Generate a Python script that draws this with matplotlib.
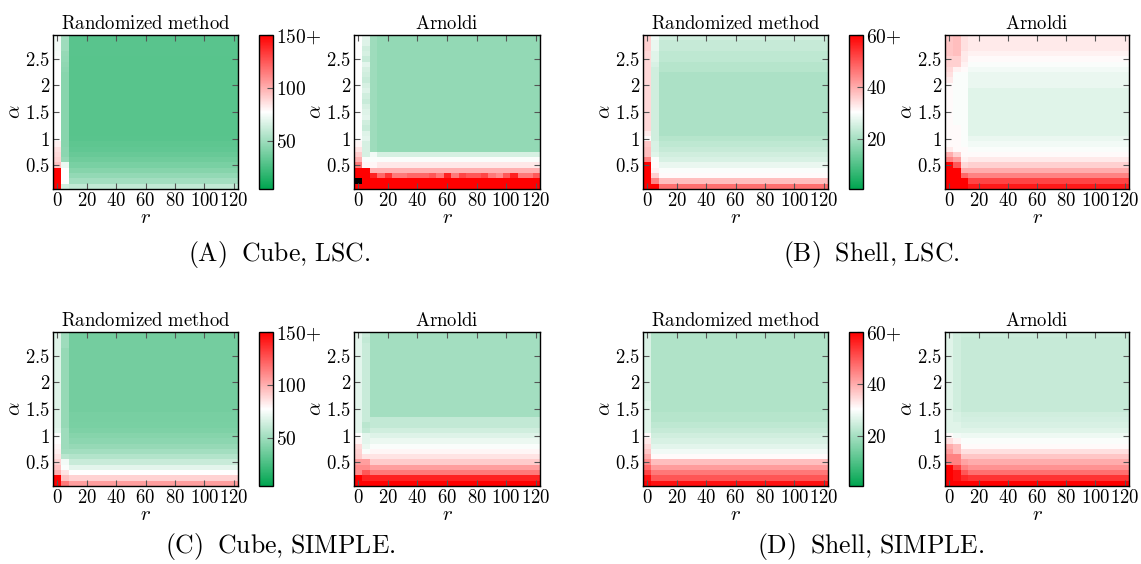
import numpy as np
import matplotlib
matplotlib.use("Agg")
import matplotlib.pyplot as plt
from matplotlib.colors import LinearSegmentedColormap

plt.rcParams['mathtext.fontset'] = 'cm'
plt.rcParams['font.family'] = 'serif'
plt.rcParams['xtick.direction'] = 'in'
plt.rcParams['ytick.direction'] = 'in'
plt.rcParams['xtick.top'] = True
plt.rcParams['ytick.right'] = True

# grid coordinates
r_vals = np.arange(0, 125, 5)                 # 25 columns
alpha_vals = np.round(np.arange(1, 30) * 0.1, 1)  # 29 rows, bottom -> top

# ---- (A) Cube, LSC ----  (values listed from alpha=0.1 upward)
cube_lsc_rand_bulk = [60, 52, 47, 43, 40, 37, 35, 33, 32, 31,
                      30, 30, 30, 30, 30, 30, 30, 30, 30, 30,
                      30, 30, 30, 30, 30, 31, 31, 31, 31]
cube_lsc_rand_c0 = [160, 160, 160, 160, 95, 90, 88, 86, 82, 78,
                    78, 77, 77, 77, 77, 77, 77, 77, 77, 77,
                    77, 77, 77, 77, 76, 75, 74, 74, 74]
cube_lsc_rand_c1 = [65, 77, 78, 78, 72, 48, 45, 45, 44, 44,
                    44, 44, 44, 44, 44, 44, 44, 44, 44, 44,
                    44, 44, 45, 46, 47, 48, 50, 50, 52]

cube_lsc_arn_bulk = [160, 160, 125, 100, 84, 76, 66, 47, 47, 47,
                     47, 47, 47, 47, 47, 47, 47, 47, 47, 47,
                     47, 47, 47, 47, 47, 47, 47, 47, 47]
cube_lsc_arn_row3 = [160, 160, 150, 120, 135, 115, 115, 120, 120, 120,
                     125, 115, 140, 115, 130, 125, 125, 130, 115, 110,
                     125, 140, 115, 115, 125]
cube_lsc_arn_c0 = [160, np.nan, 160, 160, 115, 100, 92, 85, 80, 77,
                   77, 77, 77, 77, 77, 77, 77, 77, 77, 77,
                   77, 77, 77, 77, 77, 77, 77, 77, 77]
cube_lsc_arn_c1 = [160, 160, 160, 160, 80, 76, 66, 66, 66, 70,
                   68, 62, 64, 70, 68, 66, 62, 64, 68, 66,
                   62, 64, 66, 70, 62, 66, 64, 68, 70]
cube_lsc_arn_c2 = [160, 160, 140, 100, 80, 76, 74, 50, 50, 50,
                   50, 50, 50, 50, 50, 50, 50, 50, 50, 50,
                   50, 50, 50, 50, 50, 50, 50, 50, 50]

# ---- (B) Shell, LSC ----
shell_lsc_rand_bulk = [47, 38, 31, 30, 28, 26, 25, 24, 23, 22,
                       21, 21, 21, 21, 21, 21, 21, 21, 21, 21,
                       21, 21, 22, 22, 23, 23, 24, 24, 25]
shell_lsc_rand_c0 = [60, 60, 60, 60, 60, 45, 38, 38, 37, 31,
                     33, 35, 35, 35, 35, 35, 35, 35, 35, 35,
                     35, 35, 35, 35, 35, 35, 36, 36, 36]
shell_lsc_rand_c1 = [60, 45, 36, 32, 31, 30, 27, 26, 26, 25,
                     25, 25, 25, 25, 25, 25, 25, 25, 25, 25,
                     25, 25, 25, 26, 27, 27, 28, 28, 29]

shell_lsc_arn_bulk = [57, 52, 45, 40, 36, 33, 31, 30, 29, 28,
                      27, 27, 27, 27, 27, 27, 27, 27, 27, 28,
                      28, 28, 29, 30, 31, 32, 33, 33, 33]
shell_lsc_arn_c0 = [60, 60, 60, 60, 60, 45, 40, 33, 31, 31,
                    31, 31, 31, 31, 31, 31, 31, 31, 31, 31,
                    33, 34, 35, 36, 36, 37, 37, 37, 37]
shell_lsc_arn_c1 = [60, 60, 60, 60, 50, 42, 36, 31, 31, 31,
                    31, 31, 30, 30, 30, 30, 30, 30, 30, 30,
                    30, 30, 32, 36, 36, 38, 38, 38, 38]
shell_lsc_arn_c2 = [60, 60, 48, 40, 35, 32, 31, 31, 30, 30,
                    30, 30, 30, 30, 30, 30, 30, 30, 30, 30,
                    30, 30, 31, 32, 33, 33, 34, 34, 34]

# ---- (C) Cube, SIMPLE ----
cube_simple_rand_bulk = [105, 90, 78, 70, 62, 56, 52, 48, 45, 43,
                         41, 40, 39, 39, 38, 38, 38, 38, 38, 38,
                         38, 38, 38, 38, 38, 38, 38, 38, 38]
cube_simple_rand_c0 = [160, 150, 100, 95, 90, 85, 82, 80, 78, 76,
                       70, 68, 68, 68, 68, 68, 68, 68, 68, 68,
                       68, 68, 68, 68, 68, 68, 68, 68, 68]
cube_simple_rand_c1 = [115, 95, 85, 76, 74, 58, 52, 50, 50, 50,
                       50, 48, 48, 48, 48, 48, 48, 48, 48, 48,
                       48, 48, 48, 48, 48, 48, 50, 50, 50]

cube_simple_arn_bulk = [160, 140, 115, 105, 92, 85, 80, 76, 72, 68,
                        64, 60, 60, 52, 52, 52, 52, 52, 52, 52,
                        52, 52, 52, 52, 52, 52, 52, 52, 52]
cube_simple_arn_c0 = [160, 160, 110, 110, 105, 92, 90, 88, 80, 78,
                      70, 70, 70, 70, 70, 70, 70, 70, 70, 70,
                      70, 70, 70, 70, 70, 70, 70, 70, 70]
cube_simple_arn_c1 = [160, 140, 125, 110, 105, 85, 76, 72, 70, 70,
                      60, 58, 62, 62, 62, 62, 62, 62, 62, 62,
                      62, 62, 62, 62, 62, 62, 62, 60, 62]

# ---- (D) Shell, SIMPLE ----
shell_simple_rand_bulk = [58, 50, 46, 42, 38, 31, 29, 27.5, 26, 25,
                          24, 23, 22, 22, 21.5, 21.5, 21.5, 21.5, 21.5, 21.5,
                          21.5, 21.5, 21.5, 21.5, 21.5, 21.5, 21.5, 21.5, 21.5]
shell_simple_rand_c0 = [60, 58, 52, 48, 44, 40, 37, 35, 33, 31,
                        27, 27, 27, 27, 27, 27, 26, 26, 26, 26,
                        26, 26, 26, 26, 26, 26, 26, 26, 26]

shell_simple_arn_bulk = [60, 54, 47, 43, 40, 37, 34, 31, 30, 28.5,
                         27, 26, 25.5, 25, 24, 24, 24, 24, 24, 24,
                         24, 24, 24, 24, 24, 24, 24, 24, 24.5]
shell_simple_arn_c0 = [60, 60, 60, 60, 45, 45, 42, 40, 34, 31,
                       27, 27, 27, 27, 27, 27, 27, 27, 27, 27,
                       27, 27, 27, 27, 27, 27, 27, 27, 27]
shell_simple_arn_c1 = [60, 58, 58, 52, 45, 45, 38, 38, 32, 29,
                       27, 27, 26, 26, 25, 25, 25, 25, 25, 25,
                       25, 25, 25, 25, 25, 25, 25, 25, 25]
shell_simple_arn_c2 = [60, 55, 50, 45, 41, 37, 34, 31, 30, 28.5,
                       27, 26, 25.5, 25, 24, 24, 24, 24, 24, 24,
                       24, 24, 24, 24, 24, 24, 24, 24, 24.5]


def build(bulk, cols=(), rows=None):
    g = np.tile(np.array(bulk, float)[:, None], (1, len(r_vals)))
    for j, c in enumerate(cols):
        g[:, j] = c
    if rows:
        for i, row in rows.items():
            g[i, len(cols):] = np.array(row, float)[len(cols):]
    return g


grids = {
    'A': (build(cube_lsc_rand_bulk, [cube_lsc_rand_c0, cube_lsc_rand_c1]),
          build(cube_lsc_arn_bulk, [cube_lsc_arn_c0, cube_lsc_arn_c1, cube_lsc_arn_c2],
                {2: cube_lsc_arn_row3})),
    'B': (build(shell_lsc_rand_bulk, [shell_lsc_rand_c0, shell_lsc_rand_c1]),
          build(shell_lsc_arn_bulk, [shell_lsc_arn_c0, shell_lsc_arn_c1, shell_lsc_arn_c2])),
    'C': (build(cube_simple_rand_bulk, [cube_simple_rand_c0, cube_simple_rand_c1]),
          build(cube_simple_arn_bulk, [cube_simple_arn_c0, cube_simple_arn_c1])),
    'D': (build(shell_simple_rand_bulk, [shell_simple_rand_c0]),
          build(shell_simple_arn_bulk, [shell_simple_arn_c0, shell_simple_arn_c1, shell_simple_arn_c2])),
}
limits = {'A': (5, 150), 'B': (1, 60), 'C': (5, 150), 'D': (1, 60)}
cbar_ticks = {'A': [50, 100, 150], 'B': [20, 40, 60], 'C': [50, 100, 150], 'D': [20, 40, 60]}
captions = {'A': r'$\mathrm{(A)\;\ Cube{,}\ LSC.}$', 'B': r'$\mathrm{(B)\;\ Shell{,}\ LSC.}$',
            'C': r'$\mathrm{(C)\;\ Cube{,}\ SIMPLE.}$', 'D': r'$\mathrm{(D)\;\ Shell{,}\ SIMPLE.}$'}

cmap = LinearSegmentedColormap.from_list('gwr', ['#00a550', '#ffffff', '#ff0000'])
cmap.set_bad('black')

W, H = 1141, 564
fig = plt.figure(figsize=(W / 100, H / 100), dpi=100)


def ax_px(x0, y0, x1, y1):
    return fig.add_axes([x0 / W, 1 - y1 / H, (x1 - x0) / W, (y1 - y0) / H])


# pixel boxes: left map, colorbar, right map; row tops/bottoms
col_x = {'A': (53, 238, 259, 273, 354, 540), 'B': (643, 828, 849, 863, 945, 1129),
         'C': (53, 238, 259, 273, 354, 540), 'D': (643, 828, 849, 863, 945, 1129)}
row_y = {'A': (35, 189), 'B': (35, 189), 'C': (332, 486), 'D': (332, 486)}
cap_pos = {'A': (279, 255), 'B': (871, 255), 'C': (280, 547), 'D': (871, 547)}

ext = [-2.5, 122.5, 0.05, 2.95]
xt = [0, 20, 40, 60, 80, 100, 120]
for key in 'ABCD':
    lx0, lx1, cx0, cx1, rx0, rx1 = col_x[key]
    y0, y1 = row_y[key]
    vmin, vmax = limits[key]
    for (x0, x1), g, title in [((lx0, lx1), grids[key][0], 'Randomized\\ method'),
                               ((rx0, rx1), grids[key][1], 'Arnoldi')]:
        ax = ax_px(x0, y0, x1, y1)
        im = ax.imshow(np.ma.masked_invalid(g), cmap=cmap, vmin=vmin, vmax=vmax,
                       origin='lower', extent=ext, aspect='auto', interpolation='nearest')
        ax.set_xlim(-3, 123)
        ax.set_ylim(0.05, 2.95)
        ax.set_xticks(xt)
        ax.set_xticklabels(['$%d$' % v for v in xt], fontsize=13.5)
        ax.set_yticks([0.5, 1, 1.5, 2, 2.5])
        ax.set_yticklabels(['$0.5$', '$1$', '$1.5$', '$2$', '$2.5$'], fontsize=13.5)
        ax.tick_params(length=4, width=0.8, color='#555555', pad=2)
        ax.set_xlabel('$r$', fontsize=15, labelpad=-1)
        ax.set_ylabel(r'$\alpha$', fontsize=15, labelpad=1)
        ax.set_title('$\\mathrm{%s}$' % title, fontsize=13.5, pad=4)
        for s in ax.spines.values():
            s.set_linewidth(1.0)
    cax = ax_px(cx0, y0, cx1, y1)
    cb = fig.colorbar(im, cax=cax, ticks=cbar_ticks[key])
    t = cbar_ticks[key]
    cb.ax.set_yticklabels(['$%d$' % t[0], '$%d$' % t[1], '$%d{+}$' % t[2]], fontsize=14)
    cb.ax.tick_params(length=4, width=0.8, direction='in', color='#555555', pad=2)
    cb.outline.set_linewidth(1.0)
    fig.text(cap_pos[key][0] / W, 1 - cap_pos[key][1] / H, captions[key],
             fontsize=18.5, ha='center', va='center')

fig.savefig('out.png', dpi=100)
